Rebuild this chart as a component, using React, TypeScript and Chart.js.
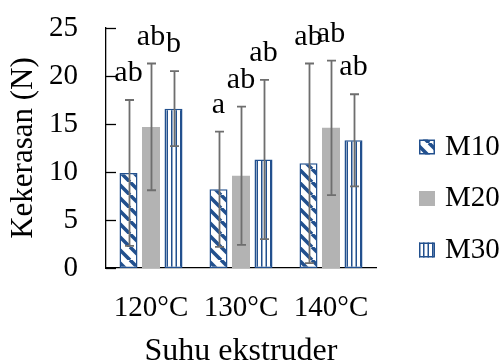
import React, { useEffect, useRef } from 'react';
import { Chart, registerables } from 'chart.js';

Chart.register(...registerables);

const categories = ['120°C', '130°C', '140°C'];
const seriesNames = ['M10', 'M20', 'M30'];
const m10Values = [9.9, 8.2, 10.9];
const m20Values = [14.7, 9.6, 14.6];
const m30Values = [16.6, 11.3, 13.3];
const m10Err = [7.6, 6.0, 10.4];
const m20Err = [6.6, 7.2, 7.0];
const m30Err = [3.9, 8.3, 4.8];
const m10Letters = ['ab', 'a', 'ab'];
const m20Letters = ['ab', 'ab', 'ab'];
const m30Letters = ['b', 'ab', 'ab'];
const yMin = 0;
const yMax = 25;
const yStep = 5;
const xTitle = 'Suhu ekstruder';
const yTitle = 'Kekerasan (N)';

const FONT = "'Liberation Serif', 'Times New Roman', serif";
const BLUE = '#22508E';
const GRAY = '#B3B3B3';
const ERR = '#6E6E6E';

function diagPattern(color: string): CanvasPattern | string {
  const s = 13;
  const c = document.createElement('canvas');
  c.width = s;
  c.height = s;
  const g = c.getContext('2d');
  if (!g) return color;
  g.fillStyle = '#ffffff';
  g.fillRect(0, 0, s, s);
  g.strokeStyle = color;
  g.lineWidth = 3.6;
  g.beginPath();
  for (const o of [-s, 0, s]) {
    g.moveTo(o, 0);
    g.lineTo(o + s, s);
  }
  g.stroke();
  return g.createPattern(c, 'repeat') || color;
}

function vertPattern(color: string): CanvasPattern | string {
  const w = 9;
  const h = 4;
  const c = document.createElement('canvas');
  c.width = w;
  c.height = h;
  const g = c.getContext('2d');
  if (!g) return color;
  g.fillStyle = '#ffffff';
  g.fillRect(0, 0, w, h);
  g.fillStyle = color;
  g.fillRect(0, 0, 1.5, h);
  g.fillRect(4.5, 0, 1.5, h);
  return g.createPattern(c, 'repeat') || color;
}

const errors = [m10Err, m20Err, m30Err];
const letters = [m10Letters, m20Letters, m30Letters];

const insideTicks = {
  id: 'insideTicks',
  afterDraw(chart: any) {
    const { ctx, chartArea } = chart;
    const y = chart.scales.y;
    ctx.save();
    ctx.strokeStyle = '#000';
    ctx.lineWidth = 1.3;
    y.ticks.forEach((t: any) => {
      const py = Math.round(y.getPixelForValue(t.value)) + 0.5;
      ctx.beginPath();
      ctx.moveTo(chartArea.left, py);
      ctx.lineTo(chartArea.left + 10, py);
      ctx.stroke();
    });
    ctx.restore();
  },
};

const errorBars = {
  id: 'errorBars',
  afterDatasetsDraw(chart: any) {
    const { ctx } = chart;
    const y = chart.scales.y;
    ctx.save();
    chart.data.datasets.forEach((ds: any, i: number) => {
      const meta = chart.getDatasetMeta(i);
      meta.data.forEach((el: any, j: number) => {
        const v = ds.data[j];
        const e = errors[i][j];
        const top = y.getPixelForValue(v + e);
        const bot = y.getPixelForValue(v - e);
        const x = Math.round(el.x) + 0.5;
        ctx.strokeStyle = ERR;
        ctx.lineWidth = 1.8;
        ctx.beginPath();
        ctx.moveTo(x, top);
        ctx.lineTo(x, bot);
        ctx.moveTo(x - 4.5, top);
        ctx.lineTo(x + 4.5, top);
        ctx.moveTo(x - 4.5, bot);
        ctx.lineTo(x + 4.5, bot);
        ctx.stroke();
      });
    });
    chart.data.datasets.forEach((ds: any, i: number) => {
      const meta = chart.getDatasetMeta(i);
      meta.data.forEach((el: any, j: number) => {
        const v = ds.data[j];
        const e = errors[i][j];
        const top = y.getPixelForValue(v + e);
        ctx.fillStyle = '#000';
        ctx.font = `30px ${FONT}`;
        ctx.textAlign = 'center';
        ctx.textBaseline = 'alphabetic';
        ctx.fillText(letters[i][j], el.x, top - 19);
      });
    });
    ctx.restore();
  },
};

const customLegend = {
  id: 'customLegend',
  afterDraw(chart: any) {
    const { ctx, chartArea } = chart;
    ctx.save();
    chart.data.datasets.forEach((ds: any, i: number) => {
      const cy = chartArea.top + 119 + i * 51.5;
      const bx = 419;
      const bw = 16;
      const bh = 15;
      ctx.fillStyle = ds.backgroundColor;
      ctx.fillRect(bx, cy - bh / 2, bw, bh);
      if (ds.borderWidth > 0) {
        ctx.strokeStyle = ds.borderColor;
        ctx.lineWidth = 1.5;
        ctx.strokeRect(bx + 0.75, cy - bh / 2 + 0.75, bw - 1.5, bh - 1.5);
      }
      ctx.fillStyle = '#000';
      ctx.font = `29px ${FONT}`;
      ctx.textAlign = 'left';
      ctx.textBaseline = 'middle';
      ctx.fillText(ds.label, 445, cy);
    });
    ctx.restore();
  },
};

export default function App() {
  const ref = useRef<HTMLCanvasElement | null>(null);

  useEffect(() => {
    if (!ref.current) return;
    const diag = diagPattern(BLUE);
    const vert = vertPattern(BLUE);
    const chart = new Chart(ref.current, {
      type: 'bar',
      data: {
        labels: categories,
        datasets: [
          {
            label: seriesNames[0],
            data: m10Values,
            backgroundColor: diag as any,
            borderColor: BLUE,
            borderWidth: 1.5,
            borderSkipped: false,
          },
          {
            label: seriesNames[1],
            data: m20Values,
            backgroundColor: GRAY,
            borderWidth: 0,
          },
          {
            label: seriesNames[2],
            data: m30Values,
            backgroundColor: vert as any,
            borderColor: BLUE,
            borderWidth: 1.5,
            borderSkipped: false,
          },
        ],
      },
      options: {
        responsive: false,
        animation: false,
        events: [],
        layout: { padding: { left: 0, right: 128, top: 28, bottom: 0 } },
        datasets: { bar: { categoryPercentage: 0.75, barPercentage: 0.8 } },
        plugins: { legend: { display: false }, tooltip: { enabled: false } },
        scales: {
          x: {
            grid: { display: false, drawTicks: false },
            border: { display: true, color: '#000', width: 1.3 },
            ticks: { font: { family: FONT, size: 29 }, color: '#000', padding: 23 },
            title: {
              display: true,
              text: xTitle,
              color: '#000',
              font: { family: FONT, size: 32, lineHeight: 0.7 },
              padding: 0,
            },
            afterFit: (s: any) => {
              s.height = 95;
            },
          },
          y: {
            min: yMin,
            max: yMax,
            grid: { display: false, drawTicks: true, tickLength: 28 },
            border: { display: true, color: '#000', width: 1.3 },
            ticks: { stepSize: yStep, font: { family: FONT, size: 29 }, color: '#000', padding: 0 },
            title: {
              display: true,
              text: yTitle,
              color: '#000',
              font: { family: FONT, size: 31, lineHeight: 1.2 },
              padding: { top: 5.4, bottom: 0 },
            },
            afterFit: (s: any) => {
              s.width = 106;
            },
          },
        },
      },
      plugins: [insideTicks, errorBars, customLegend],
    });
    return () => chart.destroy();
  }, []);

  return (
    <div style={{ position: 'absolute', left: 0, top: 0, width: 504, height: 363, background: '#fff' }}>
      <canvas ref={ref} width={504} height={363} style={{ display: 'block' }} />
    </div>
  );
}
